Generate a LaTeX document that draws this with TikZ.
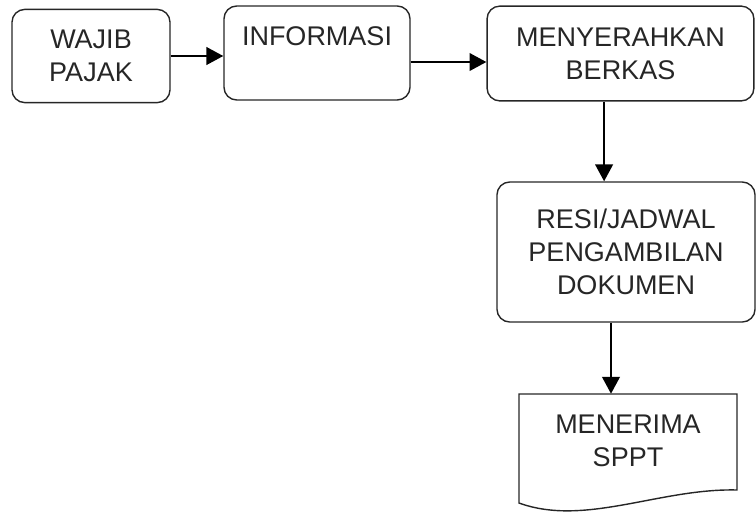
\documentclass[tikz,border=0pt]{standalone}
\usepackage{fontspec}
\setmainfont{Liberation Sans}
\usetikzlibrary{arrows.meta}
\tikzset{
    >={Triangle[length=0.42cm,width=0.44cm]},
    label font/.style={font=\fontsize{19.2}{23.4}\selectfont, text=black!85},
    box/.style={label font, draw=black!85, line width=1pt, rounded corners=0.32cm, align=center},
    doctext/.style={label font, align=center},
    flow/.style={->, line width=1.4pt},
}

\begin{document}
\begin{tikzpicture}[x=0.025cm, y=-0.025cm]
    \useasboundingbox (0,0) rectangle (756,515);
    \node[box, minimum width=3.95cm, minimum height=2.33cm] (wajib) at (91,56) {WAJIB\\PAJAK};
    \node[box, minimum width=4.65cm, minimum height=2.35cm] (info) at (317,53) {INFORMASI\\\mbox{}};
    \node[box, minimum width=6.67cm, minimum height=2.37cm] (meny) at (620.5,53.5) {MENYERAHKAN\\BERKAS};
    \node[box, minimum width=6.45cm, minimum height=3.5cm] (resi) at (626,252) {RESI/JADWAL\\PENGAMBILAN\\DOKUMEN};
    \node[doctext, minimum width=5.45cm, minimum height=2.35cm] (terima) at (628,441) {MENERIMA\\SPPT};
    % document shape
    \draw[draw=black!85, line width=1pt] (519,394) -- (737,394) -- (737,490)
        .. controls (660,488) and (585,527) .. (519,503) -- cycle;
    % connectors
    \coordinate (i1) at ([yshift=-0.225cm]info.east);
    \coordinate (m1) at ([xshift=-0.41cm]meny.south);
    \coordinate (r1) at ([xshift=-0.375cm]resi.south);
    \draw[flow] (wajib.east) -- (wajib.east -| info.west);
    \draw[flow] (i1) -- (i1 -| meny.west);
    \draw[flow] (m1) -- (m1 |- resi.north);
    \draw[flow] (r1) -- (r1 |- terima.north);
\end{tikzpicture}
\end{document}
